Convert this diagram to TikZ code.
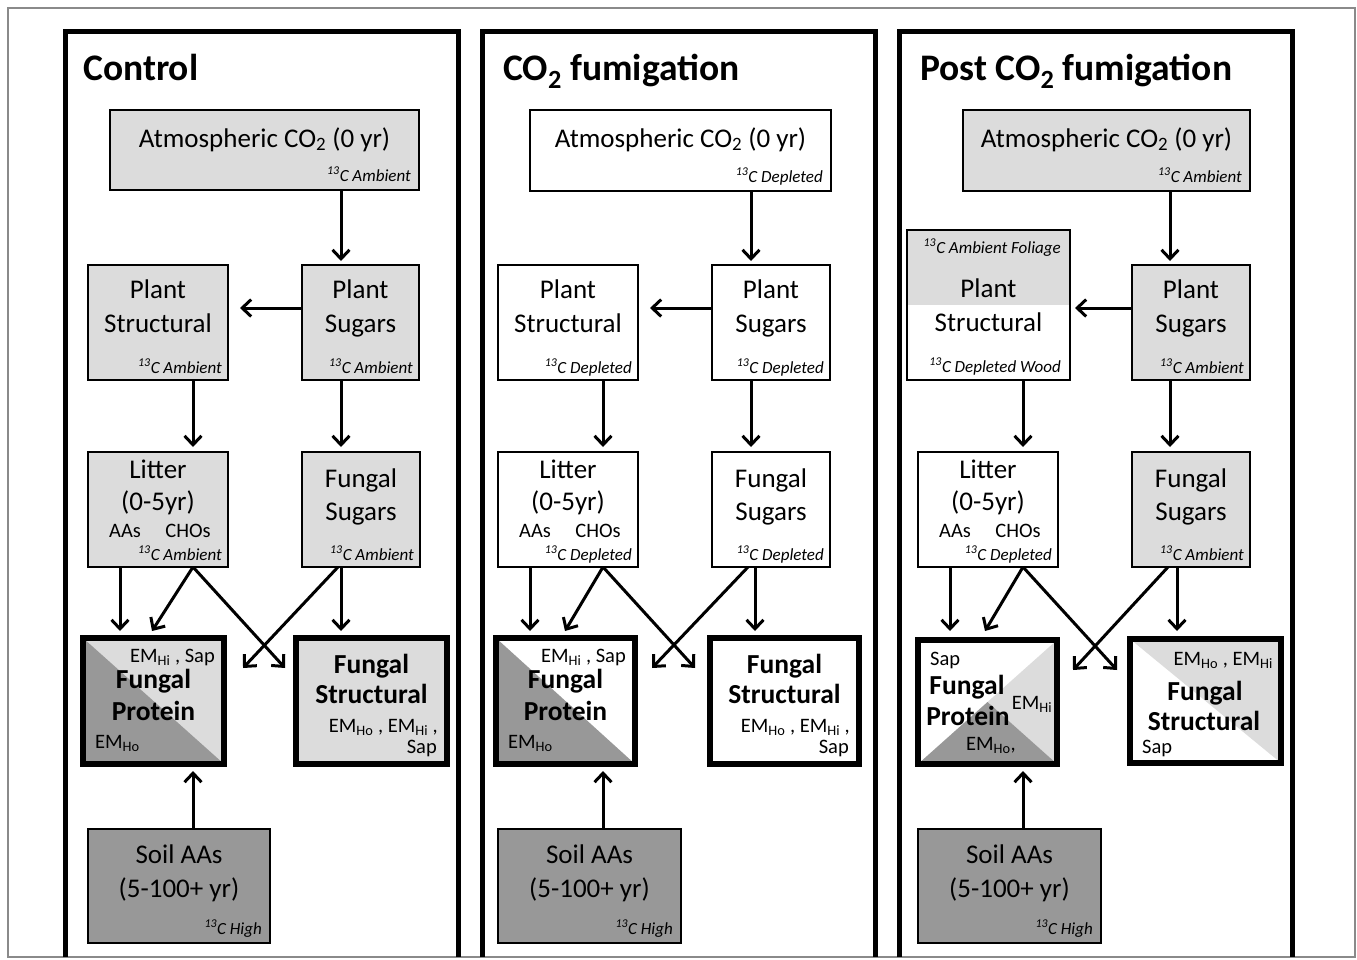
\documentclass[tikz,border=0pt]{standalone}
\usepackage{fontspec}
\setmainfont{Carlito}
\usetikzlibrary{arrows.meta,calc,backgrounds}
\definecolor{lg}{HTML}{DCDCDC}
\definecolor{dg}{HTML}{989898}
\definecolor{frm}{HTML}{8A8A8A}
\newcommand\fmain{\fontsize{27}{30}\selectfont}
\newcommand\fbold{\fontsize{27.5}{30}\selectfont\bfseries}
\newcommand\ftag{\fontsize{17}{19}\selectfont\itshape}
\newcommand\fem{\fontsize{20.5}{23}\selectfont}
\newcommand\fttl{\fontsize{37.5}{40}\selectfont\bfseries}
\newcommand\cth[1]{\textsuperscript{13}C #1}
\newcommand\mkbox[5]{\node[#5, minimum width=#3pt, minimum height=#4pt] (#1) at (#2) {};}
\begin{document}
\begin{tikzpicture}[x=1pt,y=-1pt,
  bx/.style={draw=black, line width=2pt, inner sep=0pt, outer sep=0pt, anchor=north west},
  tbx/.style={bx, line width=5.5pt},
  arr/.style={line width=3pt, -{Straight Barb[length=9pt,width=17pt]}},
  mt/.style={inner sep=0pt, anchor=base, font=\fmain},
  bt/.style={inner sep=0pt, anchor=base, font=\fbold},
  tg/.style={inner sep=0pt, anchor=base east, font=\ftag},
  em/.style={inner sep=0pt, anchor=base, font=\fem},
  ttl/.style={inner sep=0pt, anchor=base west, font=\fttl}]
\useasboundingbox (0,0) rectangle (1357,959);
\draw[frm, line width=1.5pt] (8,8) rectangle (1355,957);
\foreach \a/\b in {65/458, 482/875, 899/1292}
  \draw[line width=5pt] (\a,957) -- (\a,31) -- (\b,31) -- (\b,957);

% titles
\node[ttl] (t1) at (83,80) {Control};
\node[ttl] (t2) at (503,80) {CO\textsubscript{2} fumigation};
\node[ttl] (t3) at (920,80) {Post CO\textsubscript{2} fumigation};

% ================= Panel 1 =================
\mkbox{atm1}{110,110}{309}{80}{bx, fill=lg}
\mkbox{ps1}{88,265}{140}{115}{bx, fill=lg}
\mkbox{pg1}{302,265}{117}{115}{bx, fill=lg}
\mkbox{lt1}{88,452}{140}{115}{bx, fill=lg}
\mkbox{fs1}{302,452}{118}{115}{bx, fill=lg}
\mkbox{fp1}{83,638}{141}{126}{tbx}
\mkbox{fst1}{296,638}{151}{126}{tbx, fill=lg}
\mkbox{soil1}{88,829}{182}{114}{bx, fill=dg}
\begin{scope}[on background layer]
  \fill[lg] (fp1.north west) rectangle (fp1.south east);
  \fill[dg] (fp1.north west) -- (fp1.south west) -- (fp1.south east) -- cycle;
\end{scope}

\node[mt] (atm1a) at ($(atm1.north)+(0,37)$) {Atmospheric CO\textsubscript{2} (0 yr)};
\node[tg] (atm1t) at ($(atm1.south east)+(-8,-9)$) {\cth{Ambient}};
\node[mt] (ps1a) at ($(ps1.north)+(0,33)$) {Plant};
\node[mt] (ps1b) at ($(ps1.north)+(0,67)$) {Structural};
\node[tg] (ps1t) at ($(ps1.south east)+(-6,-7)$) {\cth{Ambient}};
\node[mt] (pg1a) at ($(pg1.north)+(0,33)$) {Plant};
\node[mt] (pg1b) at ($(pg1.north)+(0,67)$) {Sugars};
\node[tg] (pg1t) at ($(pg1.south east)+(-6,-7)$) {\cth{Ambient}};
\node[mt] (lt1a) at ($(lt1.north)+(0,26)$) {Litter};
\node[mt] (lt1b) at ($(lt1.north)+(0,58)$) {(0-5yr)};
\node[em] (lt1c) at ($(lt1.north west)+(37,85)$) {AAs};
\node[em] (lt1d) at ($(lt1.north west)+(100,85)$) {CHOs};
\node[tg] (lt1t) at ($(lt1.south east)+(-6,-7)$) {\cth{Ambient}};
\node[mt] (fs1a) at ($(fs1.north)+(0,35)$) {Fungal};
\node[mt] (fs1b) at ($(fs1.north)+(0,68)$) {Sugars};
\node[tg] (fs1t) at ($(fs1.south east)+(-6,-7)$) {\cth{Ambient}};
\node[em, anchor=base east] (fp1e) at ($(fp1.north east)+(-9,24)$) {EM\textsubscript{Hi} , Sap};
\node[bt] (fp1a) at ($(fp1.north)+(0,50)$) {Fungal};
\node[bt] (fp1b) at ($(fp1.north)+(0,82)$) {Protein};
\node[em, anchor=base west] (fp1f) at ($(fp1.south west)+(12,-16)$) {EM\textsubscript{Ho}};
\node[bt] (fst1a) at ($(fst1.north)+(0,35)$) {Fungal};
\node[bt] (fst1b) at ($(fst1.north)+(0,65)$) {Structural};
\node[em, anchor=base east] (fst1e) at ($(fst1.north east)+(-9,94)$) {EM\textsubscript{Ho} , EM\textsubscript{Hi} ,};
\node[em, anchor=base east] (fst1f) at ($(fst1.north east)+(-10,115)$) {Sap};
\node[mt] (soil1a) at ($(soil1.north)+(0,34)$) {Soil AAs};
\node[mt] (soil1b) at ($(soil1.north)+(0,68)$) {(5-100+ yr)};
\node[tg] (soil1t) at ($(soil1.south east)+(-8,-9)$) {\cth{High}};

\draw[arr] ($(atm1.south west)+(231,0)$) -- ($(pg1.north west)+(39,-4)$);
\draw[arr] ($(pg1.north west)+(0,43)$) -- ($(ps1.north east)+(12,43)$);
\draw[arr] ($(ps1.south west)+(105,0)$) -- ($(lt1.north west)+(105,-5)$);
\draw[arr] ($(pg1.south west)+(39,0)$) -- ($(fs1.north west)+(39,-5)$);
\draw[arr] ($(lt1.south west)+(32,0)$) -- ($(fp1.north west)+(37,-7)$);
\draw[arr] ($(lt1.south west)+(105,0)$) -- ($(fp1.north west)+(69,-7)$);
\draw[arr] ($(lt1.south west)+(105,0)$) -- ($(fst1.north west)+(-11,30)$);
\draw[arr] ($(fs1.south west)+(36,0)$) -- ($(fp1.north east)+(19,30)$);
\draw[arr] ($(fs1.south west)+(39,0)$) -- ($(fst1.north west)+(45,-7)$);
\draw[arr] ($(soil1.north west)+(105,0)$) -- ($(fp1.south west)+(110,7)$);

% ================= Panel 2 =================
\mkbox{atm2}{530,110}{301}{81}{bx, fill=white}
\mkbox{ps2}{498,265}{140}{115}{bx, fill=white}
\mkbox{pg2}{712,265}{118}{115}{bx, fill=white}
\mkbox{lt2}{498,452}{140}{115}{bx, fill=white}
\mkbox{fs2}{712,452}{118}{115}{bx, fill=white}
\mkbox{fp2}{496,638}{139}{126}{tbx}
\mkbox{fst2}{710,638}{149}{126}{tbx, fill=white}
\mkbox{soil2}{498,829}{183}{114}{bx, fill=dg}
\begin{scope}[on background layer]
  \fill[dg] (fp2.north west) -- (fp2.south west) -- (fp2.south east) -- cycle;
\end{scope}

\node[mt] (atm2a) at ($(atm2.north)+(0,37)$) {Atmospheric CO\textsubscript{2} (0 yr)};
\node[tg] (atm2t) at ($(atm2.south east)+(-8,-9)$) {\cth{Depleted}};
\node[mt] (ps2a) at ($(ps2.north)+(0,33)$) {Plant};
\node[mt] (ps2b) at ($(ps2.north)+(0,67)$) {Structural};
\node[tg] (ps2t) at ($(ps2.south east)+(-6,-7)$) {\cth{Depleted}};
\node[mt] (pg2a) at ($(pg2.north)+(0,33)$) {Plant};
\node[mt] (pg2b) at ($(pg2.north)+(0,67)$) {Sugars};
\node[tg] (pg2t) at ($(pg2.south east)+(-6,-7)$) {\cth{Depleted}};
\node[mt] (lt2a) at ($(lt2.north)+(0,26)$) {Litter};
\node[mt] (lt2b) at ($(lt2.north)+(0,58)$) {(0-5yr)};
\node[em] (lt2c) at ($(lt2.north west)+(37,85)$) {AAs};
\node[em] (lt2d) at ($(lt2.north west)+(100,85)$) {CHOs};
\node[tg] (lt2t) at ($(lt2.south east)+(-6,-7)$) {\cth{Depleted}};
\node[mt] (fs2a) at ($(fs2.north)+(0,35)$) {Fungal};
\node[mt] (fs2b) at ($(fs2.north)+(0,68)$) {Sugars};
\node[tg] (fs2t) at ($(fs2.south east)+(-6,-7)$) {\cth{Depleted}};
\node[em, anchor=base east] (fp2e) at ($(fp2.north east)+(-9,24)$) {EM\textsubscript{Hi} , Sap};
\node[bt] (fp2a) at ($(fp2.north)+(0,50)$) {Fungal};
\node[bt] (fp2b) at ($(fp2.north)+(0,82)$) {Protein};
\node[em, anchor=base west] (fp2f) at ($(fp2.south west)+(12,-16)$) {EM\textsubscript{Ho}};
\node[bt] (fst2a) at ($(fst2.north)+(0,35)$) {Fungal};
\node[bt] (fst2b) at ($(fst2.north)+(0,65)$) {Structural};
\node[em, anchor=base east] (fst2e) at ($(fst2.north east)+(-9,94)$) {EM\textsubscript{Ho} , EM\textsubscript{Hi} ,};
\node[em, anchor=base east] (fst2f) at ($(fst2.north east)+(-10,115)$) {Sap};
\node[mt] (soil2a) at ($(soil2.north)+(0,34)$) {Soil AAs};
\node[mt] (soil2b) at ($(soil2.north)+(0,68)$) {(5-100+ yr)};
\node[tg] (soil2t) at ($(soil2.south east)+(-8,-9)$) {\cth{High}};

\draw[arr] ($(atm2.south west)+(221,0)$) -- ($(pg2.north west)+(39,-4)$);
\draw[arr] ($(pg2.north west)+(0,43)$) -- ($(ps2.north east)+(12,43)$);
\draw[arr] ($(ps2.south west)+(105,0)$) -- ($(lt2.north west)+(105,-5)$);
\draw[arr] ($(pg2.south west)+(39,0)$) -- ($(fs2.north west)+(39,-5)$);
\draw[arr] ($(lt2.south west)+(32,0)$) -- ($(fp2.north west)+(34,-7)$);
\draw[arr] ($(lt2.south west)+(105,0)$) -- ($(fp2.north west)+(69,-7)$);
\draw[arr] ($(lt2.south west)+(105,0)$) -- ($(fst2.north west)+(-15,30)$);
\draw[arr] ($(fs2.south west)+(36,0)$) -- ($(fp2.north east)+(17,30)$);
\draw[arr] ($(fs2.south west)+(43,0)$) -- ($(fst2.north west)+(45,-7)$);
\draw[arr] ($(soil2.north west)+(105,0)$) -- ($(fp2.south west)+(107,7)$);

% ================= Panel 3 =================
\mkbox{atm3}{963,110}{287}{81}{bx, fill=lg}
\mkbox{ps3}{907,230}{163}{150}{bx}
\mkbox{pg3}{1132,265}{118}{115}{bx, fill=lg}
\mkbox{lt3}{918,452}{140}{115}{bx, fill=white}
\mkbox{fs3}{1132,452}{118}{115}{bx, fill=lg}
\mkbox{fp3}{918,640}{139}{124}{tbx}
\mkbox{fst3}{1130,639}{151}{124}{tbx}
\mkbox{soil3}{918,829}{183}{114}{bx, fill=dg}
\begin{scope}[on background layer]
  \fill[lg] (ps3.north west) rectangle (ps3.east);
  \fill[lg] (fp3.north east) -- (fp3.center) -- (fp3.south east) -- cycle;
  \fill[dg] (fp3.south west) -- (fp3.center) -- (fp3.south east) -- cycle;
  \fill[lg] (fst3.north west) -- (fst3.north east) -- (fst3.south east) -- cycle;
\end{scope}

\node[mt] (atm3a) at ($(atm3.north)+(0,37)$) {Atmospheric CO\textsubscript{2} (0 yr)};
\node[tg] (atm3t) at ($(atm3.south east)+(-8,-9)$) {\cth{Ambient}};
\node[tg] (ps3t) at ($(ps3.north east)+(-9,23)$) {\cth{Ambient Foliage}};
\node[mt] (ps3a) at ($(ps3.north)+(0,67)$) {Plant};
\node[mt] (ps3b) at ($(ps3.north)+(0,101)$) {Structural};
\node[tg] (ps3u) at ($(ps3.south east)+(-9,-8)$) {\cth{Depleted Wood}};
\node[mt] (pg3a) at ($(pg3.north)+(0,33)$) {Plant};
\node[mt] (pg3b) at ($(pg3.north)+(0,67)$) {Sugars};
\node[tg] (pg3t) at ($(pg3.south east)+(-6,-7)$) {\cth{Ambient}};
\node[mt] (lt3a) at ($(lt3.north)+(0,26)$) {Litter};
\node[mt] (lt3b) at ($(lt3.north)+(0,58)$) {(0-5yr)};
\node[em] (lt3c) at ($(lt3.north west)+(37,85)$) {AAs};
\node[em] (lt3d) at ($(lt3.north west)+(100,85)$) {CHOs};
\node[tg] (lt3t) at ($(lt3.south east)+(-6,-7)$) {\cth{Depleted}};
\node[mt] (fs3a) at ($(fs3.north)+(0,35)$) {Fungal};
\node[mt] (fs3b) at ($(fs3.north)+(0,68)$) {Sugars};
\node[tg] (fs3t) at ($(fs3.south east)+(-6,-7)$) {\cth{Ambient}};
\node[em, anchor=base west] (fp3e) at ($(fp3.north west)+(12,25)$) {Sap};
\node[bt] (fp3a) at ($(fp3.north west)+(49,54)$) {Fungal};
\node[bt] (fp3b) at ($(fp3.north west)+(50,85)$) {Protein};
\node[em] (fp3f) at ($(fp3.north west)+(114,69)$) {EM\textsubscript{Hi}};
\node[em] (fp3g) at ($(fp3.north west)+(73,110)$) {EM\textsubscript{Ho},};
\node[em, anchor=base east] (fst3e) at ($(fst3.north east)+(-8,26)$) {EM\textsubscript{Ho} , EM\textsubscript{Hi}};
\node[bt] (fst3a) at ($(fst3.north west)+(75,61)$) {Fungal};
\node[bt] (fst3b) at ($(fst3.north west)+(74,91)$) {Structural};
\node[em, anchor=base west] (fst3f) at ($(fst3.south west)+(12,-10)$) {Sap};
\node[mt] (soil3a) at ($(soil3.north)+(0,34)$) {Soil AAs};
\node[mt] (soil3b) at ($(soil3.north)+(0,68)$) {(5-100+ yr)};
\node[tg] (soil3t) at ($(soil3.south east)+(-8,-9)$) {\cth{High}};

\draw[arr] ($(atm3.south west)+(207,0)$) -- ($(pg3.north west)+(38,-4)$);
\draw[arr] ($(pg3.north west)+(0,43)$) -- ($(ps3.north east)+(5,78)$);
\draw[arr] ($(ps3.south west)+(116,0)$) -- ($(lt3.north west)+(105,-5)$);
\draw[arr] ($(pg3.south west)+(38,0)$) -- ($(fs3.north west)+(38,-5)$);
\draw[arr] ($(lt3.south west)+(32,0)$) -- ($(fp3.north west)+(32,-9)$);
\draw[arr] ($(lt3.south west)+(105,0)$) -- ($(fp3.north west)+(67,-9)$);
\draw[arr] ($(lt3.south west)+(105,0)$) -- ($(fst3.north west)+(-13,31)$);
\draw[arr] ($(fs3.south west)+(36,0)$) -- ($(fp3.north east)+(16,30)$);
\draw[arr] ($(fs3.south west)+(45,0)$) -- ($(fst3.north west)+(47,-8)$);
\draw[arr] ($(soil3.north west)+(105,0)$) -- ($(fp3.south west)+(105,7)$);
\end{tikzpicture}
\end{document}
